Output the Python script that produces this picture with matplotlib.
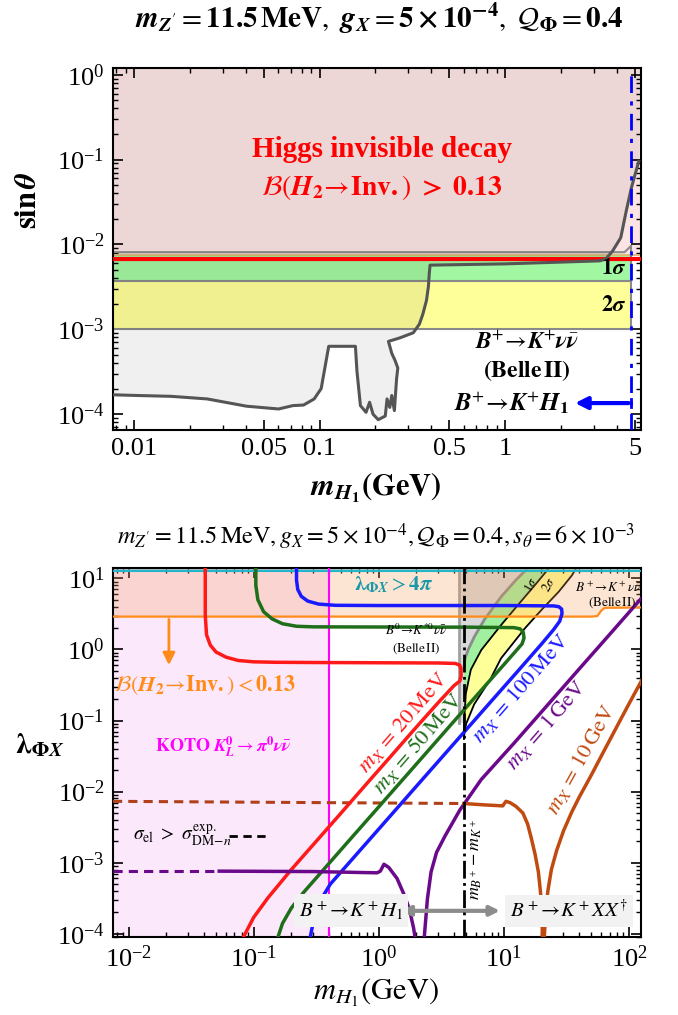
import numpy as np
import matplotlib.pyplot as plt
import matplotlib.ticker as mticker

plt.rcParams["font.family"] = "serif"
plt.rcParams["font.serif"] = ["Liberation Serif", "DejaVu Serif"]
plt.rcParams["mathtext.fontset"] = "stix"
plt.rcParams["font.size"] = 16
plt.rcParams["axes.linewidth"] = 1.5

#=====================#
# top panel : sin(theta) vs m_H1
#=====================#
top_xlim = (0.0077, 5.4)
top_ylim = (6.5e-5, 1.2)
top_xticks = [0.01, 0.05, 0.1, 0.5, 1, 5]
top_xticklabels = ["0.01", "0.05", "0.1", "0.5", "1", "5"]

# B+ -> K+ nu nubar (Belle II) recast contour (dark gray)
bk_x = [0.0077, 0.0102, 0.0159, 0.0248, 0.0404, 0.0601, 0.0718, 0.082, 0.0935, 0.102,
        0.112, 0.156, 0.159, 0.166, 0.178, 0.186, 0.194, 0.207, 0.226, 0.231, 0.239,
        0.245, 0.253, 0.26, 0.264, 0.255, 0.245, 0.235, 0.27, 0.32, 0.345, 0.36,
        0.377, 0.386, 0.39, 0.394, 1.0, 3.24, 3.5, 3.8, 4.2, 4.5, 4.8, 5.25]
bk_y = [1.69e-4, 1.66e-4, 1.62e-4, 1.51e-4, 1.24e-4, 1.15e-4, 1.26e-4, 1.28e-4, 1.51e-4, 2.0e-4,
        6.3e-4, 6.3e-4, 3.2e-4, 1.26e-4, 1.05e-4, 1.38e-4, 1.0e-4, 8.6e-5, 9.5e-5, 1.51e-4, 1.2e-4,
        1.66e-4, 1.1e-4, 2.6e-4, 3.5e-4, 4.3e-4, 5.2e-4, 7.2e-4, 7.9e-4, 9.1e-4, 1.15e-3, 1.5e-3,
        2.2e-3, 3.2e-3, 4.5e-3, 5.7e-3, 5.9e-3, 6.4e-3, 6.8e-3, 8.4e-3, 1.2e-2, 2.5e-2, 4.7e-2, 9.5e-2]

inv_lim = 7.6e-3      # Higgs invisible bound on sin(theta)
sig1_lo = 3.7e-3      # lower edge of 1 sigma band
sig2_lo = 1.0e-3      # lower edge of 2 sigma band
band_end = 4.75
red_s = 6.8e-3
mB_mK = 4.79

#=====================#
# bottom panel : lambda_PhiX vs m_H1
#=====================#
bot_xlim = (0.0075, 125)
bot_ylim = (9e-5, 14)
koto_m = 0.4
gray_v = 4.4
gray_v_bot = 0.093
four_pi = 4 * np.pi

red_x = [0.08, 0.1, 0.13, 0.2, 0.3, 0.5, 0.8, 1.2, 2.0, 3.0, 4.0, 4.45, 4.55, 4.55, 4.45, 4.1,
         3.0, 1.0, 0.3, 0.15, 0.1, 0.075, 0.06, 0.05, 0.045, 0.042, 0.041, 0.041]
red_y = [8e-5, 1.7e-4, 3.2e-4, 8e-4, 1.8e-3, 5e-3, 0.0129, 0.029, 0.081, 0.18, 0.31, 0.36, 0.42,
         0.52, 0.6, 0.635, 0.645, 0.65, 0.655, 0.66, 0.67, 0.7, 0.78, 0.92, 1.15, 1.6, 3.0, 15]

green_x = [0.153, 0.17, 0.2, 0.25, 0.36, 0.6, 1.0, 2.0, 4.0, 7.0, 10.0, 12.8, 14.0, 14.5, 14.3,
           13.5, 12.0, 5.0, 1.0, 0.3, 0.22, 0.17, 0.14, 0.12, 0.108, 0.104, 0.104]
green_y = [8e-5, 1.4e-4, 2.3e-4, 3.8e-4, 7.9e-4, 2.2e-3, 6.1e-3, 0.0244, 0.098, 0.3, 0.61, 1.0,
           1.2, 1.45, 1.75, 1.95, 2.03, 2.06, 2.07, 2.08, 2.12, 2.3, 2.7, 3.4, 5.0, 8.0, 15]

blue_x = [0.28, 0.3, 0.34, 0.41, 0.6, 1.0, 2.0, 4.0, 8.0, 13.0, 20.0, 25.0, 28.0, 29.2, 29.0,
          27.5, 25.0, 10.0, 1.0, 0.45, 0.33, 0.27, 0.24, 0.225, 0.22, 0.22]
blue_y = [8e-5, 1.5e-4, 2.9e-4, 5e-4, 1.07e-3, 2.97e-3, 0.0119, 0.0475, 0.19, 0.5, 1.19, 1.9,
          2.5, 3.2, 3.7, 4.0, 4.1, 4.15, 4.15, 4.18, 4.35, 4.8, 5.6, 7.0, 9.5, 15]

purple_dash_x = [0.0075, 0.053]
purple_dash_y = [7.6e-4, 7.6e-4]
purple_left_x = [0.053, 0.3, 0.97, 1.03, 1.1, 1.2, 1.4, 1.6, 1.76, 1.9, 1.97]
purple_left_y = [7.6e-4, 7.5e-4, 7.2e-4, 7.6e-4, 9.5e-4, 8.6e-4, 6e-4, 3.5e-4, 2.2e-4, 1.2e-4, 8e-5]
purple_right_x = [2.3, 2.45, 2.62, 2.9, 3.4, 4.45, 6.6, 12.0, 20.0, 40.0, 70.0, 130.0]
purple_right_y = [8e-5, 3.1e-4, 7.4e-4, 1.4e-3, 2.4e-3, 5.5e-3, 0.0148, 0.0475, 0.132, 0.53, 1.62, 5.6]

brown_dash_x = [0.0075, 4.79]
brown_dash_y = [7.3e-3, 6.8e-3]
brown_left_x = [4.79, 7.0, 9.8, 10.4, 11.2, 12.5, 14.2, 15.5, 16.6, 17.8, 18.9, 19.6, 20.1, 20.4]
brown_left_y = [6.8e-3, 6.5e-3, 6.3e-3, 7.3e-3, 7.0e-3, 6.2e-3, 5.0e-3, 3.5e-3, 2.2e-3, 1.3e-3,
                7.4e-4, 4e-4, 2.5e-4, 8e-5]
brown_right_x = [21.0, 21.6, 22.5, 24, 26.5, 30, 35, 40, 50, 62, 78, 98, 130]
brown_right_y = [8e-5, 2e-4, 4e-4, 8e-4, 1.5e-3, 2.8e-3, 5.2e-3, 8.3e-3, 0.017, 0.035, 0.075, 0.16, 0.4]

# B0 -> K*0 nu nubar boundary (gray) and B+ -> K+ nu nubar 1/2 sigma edges
g_x = [4.79, 4.9, 5.2, 5.8, 6.96, 9.5, 12.5, 15.6]
g_y = [0.55, 0.75, 1.0, 1.5, 2.6, 5.5, 9.5, 14]
b1_x = [4.8, 4.85, 4.97, 5.45, 6.6, 9.5, 13.8, 18.0, 23.0]
b1_y = [0.055, 0.12, 0.24, 0.52, 0.98, 2.2, 4.8, 8.3, 14]
b2_x = [4.8, 5.0, 5.8, 7.8, 9.5, 14.8, 20.0, 27.5, 35.0, 38.0]
b2_y = [0.06, 0.09, 0.17, 0.38, 0.75, 2.0, 3.6, 6.5, 11, 14]

orange_x = [0.0075, 50, 56, 60, 64, 130]
orange_y = [2.9, 2.9, 2.95, 3.5, 3.85, 3.9]


def style(ax):
    ax.tick_params(which="both", direction="in", top=True, right=True, labelsize=19)
    ax.tick_params(which="major", length=7, width=1.2, pad=6)
    ax.tick_params(which="minor", length=3.5, width=1)


fig = plt.figure(figsize=(6.78, 10.15), dpi=100)
W, H = 678.0, 1015.0
ax1 = fig.add_axes([113 / W, 1 - 430 / H, 528 / W, 362 / H])
ax2 = fig.add_axes([113 / W, 1 - 937 / H, 528 / W, 369 / H])

# ---------------- top ----------------
ax1.set_xscale("log")
ax1.set_yscale("log")
ax1.set_xlim(*top_xlim)
ax1.set_ylim(*top_ylim)

ax1.axhspan(inv_lim, 10, color="#fce4e4", lw=0, zorder=0)
ax1.fill_between([top_xlim[0], band_end], sig1_lo, inv_lim, color="#a2f7a2", lw=0, zorder=1)
ax1.fill_between([top_xlim[0], band_end], sig2_lo, sig1_lo, color="#ffff99", lw=0, zorder=1)
ax1.plot([top_xlim[0], band_end], [sig1_lo, sig1_lo], color="#8a8a8a", lw=1.5, zorder=2)
ax1.plot([top_xlim[0], band_end], [sig2_lo, sig2_lo], color="#8a8a8a", lw=1.5, zorder=2)
ax1.plot([band_end, band_end], [sig2_lo, 9.5e-3], color="#8a8a8a", lw=1.5, zorder=2)
ax1.plot([top_xlim[0], 4.4, band_end], [8.1e-3, 8.1e-3, 9.5e-3], color="#8a8a8a", lw=1.5, zorder=2)
ax1.axhline(7.5e-3, color="#d9b36c", lw=1.2, zorder=2)

ax1.fill(bk_x + [top_xlim[1], top_xlim[0]], bk_y + [10, 10], color="k", alpha=0.06, lw=0, zorder=2)
ax1.axhline(red_s, color="red", lw=3, zorder=3)
ax1.plot(bk_x, bk_y, color="#555555", lw=2.2, zorder=4)
ax1.axvline(mB_mK, color="blue", lw=2, ls=(0, (6, 3, 1.5, 3)), zorder=5)

ax1.annotate("", xy=(2.3, 1.35e-4), xytext=(mB_mK, 1.35e-4),
             arrowprops=dict(arrowstyle="-|>", color="blue", lw=3, mutation_scale=18), zorder=5)
ax1.plot([mB_mK, mB_mK], [1.2e-4, 1.52e-4], color="blue", lw=2, zorder=5)

ax1.text(0.216, 0.13, "Higgs invisible decay", color="red", fontsize=21, fontweight="bold",
         ha="center", va="center")
ax1.text(0.216, 0.047, r"$\mathcal{B}(\mathbfit{H}_{\mathbf{2}}\!\rightarrow\!\mathbf{Inv.})\ \mathbf{>}\ \mathbf{0.13}$",
         color="red", fontsize=20, ha="center", va="center")
ax1.text(4.5, 5.2e-3, r"$\mathbf{1}\boldsymbol{\sigma}$", fontsize=16, ha="right", va="center", zorder=6)
ax1.text(4.5, 1.9e-3, r"$\mathbf{2}\boldsymbol{\sigma}$", fontsize=16, ha="right", va="center", zorder=6)
ax1.text(1.31, 7.0e-4, r"$\mathbfit{B}^{+}\!\rightarrow\!\mathbfit{K}^{+}\boldsymbol{\nu}\bar{\boldsymbol{\nu}}$",
         fontsize=17, ha="center", va="center")
ax1.text(1.31, 3.3e-4, r"$\mathbf{(Belle\,II)}$", fontsize=17, ha="center", va="center")
ax1.text(2.2, 1.35e-4, r"$\mathbfit{B}^{+}\!\rightarrow\!\mathbfit{K}^{+}\mathbfit{H}_{\mathbf{1}}$",
         fontsize=18, ha="right", va="center")

ax1.xaxis.set_major_locator(mticker.FixedLocator(top_xticks))
ax1.xaxis.set_major_formatter(mticker.FixedFormatter(top_xticklabels))
ax1.xaxis.set_minor_locator(mticker.LogLocator(base=10, subs=np.arange(2, 10), numticks=20))
ax1.xaxis.set_minor_formatter(mticker.NullFormatter())
ax1.yaxis.set_minor_locator(mticker.LogLocator(base=10, subs=np.arange(2, 10), numticks=20))
ax1.yaxis.set_minor_formatter(mticker.NullFormatter())
style(ax1)

# ---------------- bottom ----------------
ax2.set_xscale("log")
ax2.set_yscale("log")
ax2.set_xlim(*bot_xlim)
ax2.set_ylim(*bot_ylim)

ax2.axvspan(bot_xlim[0], koto_m, color="#fce8fb", lw=0, zorder=0)
ax2.fill(b2_x + [mB_mK, mB_mK], b2_y + [20, b2_y[0]], color="#ffff99", lw=0, zorder=1)
ax2.fill(b1_x + [mB_mK, mB_mK], b1_y + [20, b1_y[0]], color="#a0f0a0", lw=0, zorder=1)
ax2.fill([gray_v, mB_mK] + g_x + [g_x[-1], gray_v], [gray_v_bot, gray_v_bot] + g_y + [20, 20],
         color="#d9d9d9", lw=0, zorder=1)
ax2.plot(b1_x, b1_y, color="k", lw=1.3, zorder=2)
ax2.plot(b2_x, b2_y, color="k", lw=1.3, zorder=2)
ax2.plot(g_x, g_y, color="#8c8c8c", lw=2, zorder=2)
ax2.plot([gray_v, gray_v], [gray_v_bot, 20], color="#a0a0a0", lw=2, zorder=2)

ax2.fill_between(orange_x, orange_y, 20, color="#f79b56", alpha=0.26, lw=0, zorder=2)
ax2.axhspan(four_pi, 20, color="#7fb8c4", alpha=0.6, lw=0, zorder=2)
ax2.plot(orange_x, orange_y, color="#ff8c1a", lw=1.6, zorder=3)
ax2.axhline(four_pi, color="#22b5cc", lw=1.5, zorder=3)
ax2.axvline(koto_m, color="#ff00ff", lw=1.5, zorder=3)

ax2.plot(purple_dash_x, purple_dash_y, color="#6a0a8a", lw=2.2, ls=(0, (3, 2)), zorder=4)
ax2.plot(brown_dash_x, brown_dash_y, color="#b0401a", lw=2.2, ls=(0, (3, 2)), zorder=4)
ax2.plot(red_x, red_y, color="#ff1a1a", lw=2.5, zorder=4)
ax2.plot(green_x, green_y, color="#1f6e1a", lw=2.5, zorder=4)
ax2.plot(blue_x, blue_y, color="#1a1aff", lw=2.5, zorder=4)
ax2.plot(purple_left_x, purple_left_y, color="#6a0a8a", lw=2.5, zorder=4)
ax2.plot(purple_right_x, purple_right_y, color="#6a0a8a", lw=2.5, zorder=4)
ax2.plot(brown_left_x, brown_left_y, color="#c04a10", lw=2.5, zorder=4)
ax2.plot(brown_right_x, brown_right_y, color="#c04a10", lw=2.5, zorder=4)
ax2.axvline(mB_mK, color="k", lw=2, ls="-.", zorder=6)

ax2.annotate("", xy=(0.021, 0.55), xytext=(0.021, 2.9),
             arrowprops=dict(arrowstyle="-|>", color="#ff8c1a", lw=2, mutation_scale=18), zorder=5)
ax2.annotate("", xy=(9.8, 2.1e-4), xytext=(1.42, 2.1e-4),
             arrowprops=dict(arrowstyle="<|-|>", color="#8c8c8c", lw=3, mutation_scale=14), zorder=5)

ax2.text(0.041, 0.31, r"$\mathcal{B}(\mathbfit{H}_{\mathbf{2}}\!\rightarrow\!\mathbf{Inv.})<\mathbf{0.13}$",
         color="#ff8c1a", fontsize=16, ha="center", va="center")
ax2.text(0.057, 0.042, r"$\mathbf{KOTO}\ \mathbfit{K}^{\mathbf{0}}_{\mathbfit{L}}\rightarrow\boldsymbol{\pi}^{\mathbf{0}}\boldsymbol{\nu}\bar{\boldsymbol{\nu}}$",
         color="#ff00ff", fontsize=13, ha="center", va="center")
ax2.text(1.32, 8.2, r"$\boldsymbol{\lambda}_{\mathbf{\Phi}\mathbfit{X}}>\mathbf{4}\boldsymbol{\pi}$",
         color="#1a98a8", fontsize=15, ha="center", va="center", zorder=6)
ax2.text(2.0, 1.85, r"$B^0\!\rightarrow\! K^{*0}\nu\bar{\nu}$", fontsize=9.5, ha="center", va="center", zorder=6)
ax2.text(2.0, 1.02, r"$\mathrm{(Belle\,II)}$", fontsize=9.5, ha="center", va="center", zorder=6)
ax2.text(16.4, 8.0, r"$1\sigma$", fontsize=9, rotation=60, ha="center", va="center", zorder=6)
ax2.text(23.0, 8.0, r"$2\sigma$", fontsize=9, rotation=60, ha="center", va="center", zorder=6)
ax2.text(68, 7.4, r"$B^+\!\rightarrow\! K^+\nu\bar{\nu}$", fontsize=9.5, ha="center", va="center", zorder=6)
ax2.text(74, 4.6, r"$\mathrm{(Belle\,II)}$", fontsize=9.5, ha="center", va="center", zorder=6)

ax2.text(1.58, 0.093, r"$m_X\,=\,20\,\mathrm{MeV}$", color="#ff1a1a", fontsize=16, rotation=49,
         ha="center", va="center", zorder=6)
ax2.text(2.05, 0.048, r"$m_X\,=\,50\,\mathrm{MeV}$", color="#1f6e1a", fontsize=16, rotation=49,
         ha="center", va="center", zorder=6)
ax2.text(13.7, 0.29, r"$m_X\,=\,100\,\mathrm{MeV}$", color="#1a1aff", fontsize=16, rotation=49,
         ha="center", va="center", zorder=6)
ax2.text(21.7, 0.087, r"$m_X\,=\,1\,\mathrm{GeV}$", color="#6a0a8a", fontsize=16, rotation=49,
         ha="center", va="center", zorder=6)
ax2.text(41, 0.028, r"$m_X\,=\,10\,\mathrm{GeV}$", color="#c04a10", fontsize=16, rotation=61,
         ha="center", va="center", zorder=6)

ax2.text(0.0108, 2.4e-3, r"$\sigma_{\mathrm{el}}\ >\ \sigma^{\mathrm{exp.}}_{\mathrm{DM}\!-\!n}$",
         fontsize=14, ha="left", va="center")
ax2.plot([0.064, 0.134], [2.4e-3, 2.4e-3], color="k", lw=2, ls=(0, (3, 2)))
ax2.text(5.9, 1.1e-3, r"$m_{B^+}-m_{K^+}$", fontsize=13, rotation=90, ha="center", va="center", zorder=6)

box = dict(boxstyle="square,pad=0.25", facecolor="#f2f2f2", edgecolor="none")
ax2.text(0.6, 2.1e-4, r"$B^+\!\rightarrow\! K^+H_1$", fontsize=15, ha="center", va="center",
         bbox=box, zorder=7)
ax2.text(33, 2.1e-4, r"$B^+\!\rightarrow\! K^+XX^{\dagger}$", fontsize=15, ha="center", va="center",
         bbox=box, zorder=7)

ax2.xaxis.set_minor_locator(mticker.LogLocator(base=10, subs=np.arange(2, 10), numticks=20))
ax2.xaxis.set_minor_formatter(mticker.NullFormatter())
ax2.yaxis.set_minor_locator(mticker.LogLocator(base=10, subs=np.arange(2, 10), numticks=20))
ax2.yaxis.set_minor_formatter(mticker.NullFormatter())
style(ax2)

# titles and axis labels
fig.text(379 / W, 1 - 18 / H,
         r"$\mathbfit{m}_{\mathbfit{Z}^{\prime}}=\mathbf{11.5\,MeV},\ \mathbfit{g}_{\mathbfit{X}}=\mathbf{5\times 10^{-4}},\ \mathcal{Q}_{\mathbf{\Phi}}=\mathbf{0.4}$",
         fontsize=21, ha="center", va="center")
fig.text(376 / W, 1 - 488 / H, r"$\mathbfit{m}_{\mathbfit{H}_{\mathbf{1}}}\mathbf{(GeV)}$",
         fontsize=22, ha="center", va="center")
fig.text(28 / W, 1 - 200 / H, r"$\mathbf{sin}\,\boldsymbol{\theta}$", fontsize=22,
         rotation=90, ha="center", va="center")
fig.text(376 / W, 1 - 537 / H,
         r"$m_{Z'}=11.5\,\mathrm{MeV}, g_X=5\times 10^{-4}, \mathcal{Q}_{\Phi}=0.4, s_{\theta}=6\times 10^{-3}$",
         fontsize=17.5, ha="center", va="center")
fig.text(40 / W, 1 - 745 / H, r"$\boldsymbol{\lambda}_{\mathbf{\Phi}\mathbfit{X}}$", fontsize=21,
         ha="center", va="center")
fig.text(376 / W, 1 - 993 / H, r"$m_{H_1}(\mathrm{GeV})$", fontsize=22, ha="center", va="center")

fig.savefig("out.png", dpi=100)
